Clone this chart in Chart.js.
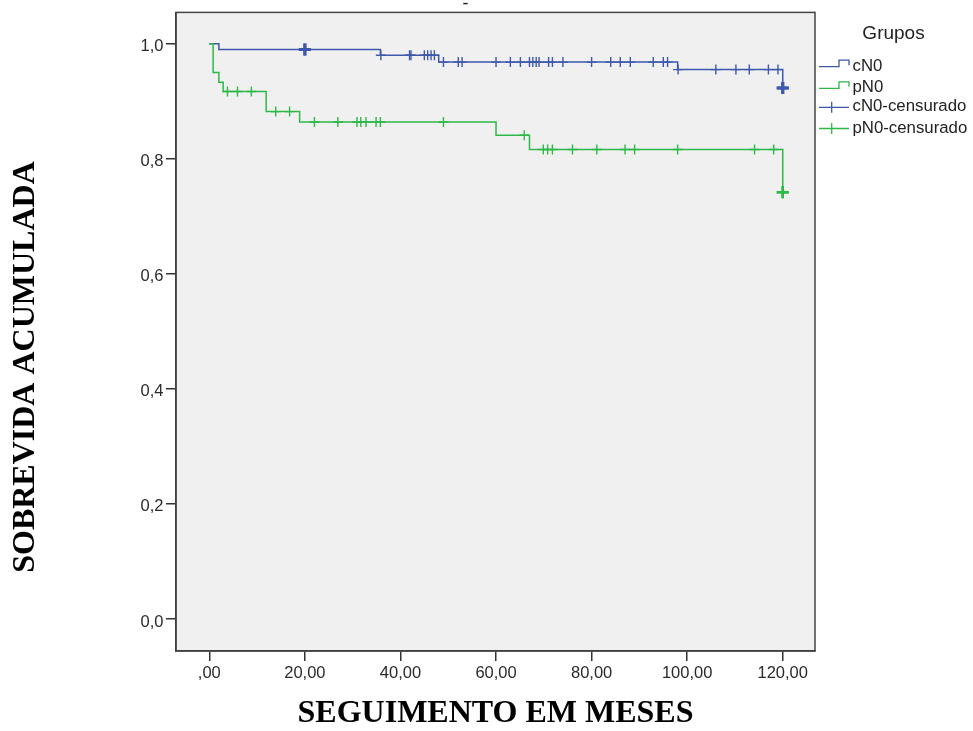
<!DOCTYPE html>
<html><head><meta charset="utf-8">
<script src="https://cdn.jsdelivr.net/npm/chart.js@4/dist/chart.umd.min.js"></script>
<style>html,body{margin:0;padding:0;background:#fff;}</style>
</head><body>
<canvas id="c" width="973" height="731"></canvas>
<script>
// ---- data ----
const xTicks = [0, 20, 40, 60, 80, 100, 120];
const yTicks = [0, 0.2, 0.4, 0.6, 0.8, 1.0];

const cN0Times = [0, 2, 35.8, 48, 98.0, 120];
const cN0Surv  = [1, 0.990, 0.980, 0.968, 0.955, 0.923];

const pN0Times = [0, 0.8, 2, 2.9, 11.9, 18.9, 60, 67, 120];
const pN0Surv  = [1, 0.950, 0.933, 0.917, 0.882, 0.864, 0.841, 0.816, 0.742];

const cN0CensorTimes = [20, 20, 35.9, 41.9, 42.2, 45.0, 45.7, 46.4, 47.1, 49.0, 52.1, 52.9,
  60.0, 63.0, 65.1, 67.0, 67.7, 68.4, 69.0, 71.0, 71.8, 74.0, 80.0, 84.0, 86.0, 88.1,
  92.9, 95.0, 95.9, 98.1, 106.0, 110.2, 113.0, 117.0, 119.0, 120, 120];
const pN0CensorTimes = [3.8, 5.9, 8.8, 13.9, 16.8, 22.0, 26.9, 30.9, 31.7, 32.8, 34.9, 35.8,
  49.0, 65.9, 69.9, 70.8, 71.8, 76.0, 81.1, 87.0, 89.0, 98.0, 114.1, 118.1, 120, 120];

const groupNames = ['cN0', 'pN0', 'cN0-censurado', 'pN0-censurado'];
const legendTitle = 'Grupos';
const xTitle = 'SEGUIMENTO EM MESES';
const yTitle = 'SOBREVIDA ACUMULADA';
const chartTitle = '-';

// ---- helpers ----
const BLUE = '#3e58ac', GREEN = '#2eb848';
function stepValue(times, surv, t) {
  let v = surv[0];
  for (let i = 0; i < times.length; i++) if (t >= times[i]) v = surv[i];
  return v;
}
const curve = (times, surv) => times.map((t, i) => ({x: t, y: surv[i]}));
const censors = (ct, times, surv) => ct.map(t => ({x: t, y: stepValue(times, surv, t)}));
const dupCount = (arr, t) => arr.filter(v => v === t).length;

const overlay = {
  id: 'overlay',
  beforeDraw(chart) {
    const {ctx, chartArea: a} = chart;
    ctx.save();
    ctx.fillStyle = '#f0f0f0';
    ctx.fillRect(a.left, a.top, a.right - a.left, a.bottom - a.top);
    ctx.restore();
  },
  afterDraw(chart) {
    const {ctx, chartArea: a} = chart;
    ctx.save();
    ctx.strokeStyle = '#444';
    ctx.lineWidth = 1.5;
    ctx.strokeRect(a.left, a.top, a.right - a.left, a.bottom - a.top);

    // small chart title mark
    ctx.fillStyle = '#222';
    ctx.font = '18px "Liberation Sans", Arial, sans-serif';
    ctx.textAlign = 'center'; ctx.textBaseline = 'middle';
    ctx.fillText(chartTitle, 465.5, 4);

    // y axis title
    ctx.save();
    ctx.translate(25.5, 367);
    ctx.rotate(-Math.PI / 2);
    ctx.font = 'bold 32px "Liberation Serif", "Times New Roman", serif';
    ctx.fillStyle = '#000';
    ctx.textAlign = 'center'; ctx.textBaseline = 'middle';
    ctx.fillText(yTitle, 0, 0);
    ctx.restore();

    // legend
    ctx.fillStyle = '#222';
    ctx.font = '19px "Liberation Sans", Arial, sans-serif';
    ctx.textAlign = 'center'; ctx.textBaseline = 'middle';
    ctx.fillText(legendTitle, 893.5, 33.5);

    ctx.font = '16.8px "Liberation Sans", Arial, sans-serif';
    ctx.textAlign = 'left';
    const rows = [66.7, 88.3, 107.3, 128.5];
    const cols = [BLUE, GREEN, BLUE, GREEN];
    rows.forEach((y, i) => {
      ctx.strokeStyle = cols[i];
      ctx.lineWidth = 1.3;
      ctx.beginPath();
      if (i < 2) {
        ctx.moveTo(819, y); ctx.lineTo(839, y); ctx.lineTo(839, y - 6.5);
        ctx.lineTo(849, y - 6.5); ctx.lineTo(849, y - 1.5);
      } else {
        ctx.moveTo(819, y); ctx.lineTo(849, y);
        ctx.moveTo(831.7, y - 5.5); ctx.lineTo(831.7, y + 5.5);
      }
      ctx.stroke();
      ctx.fillStyle = '#222';
      ctx.fillText(groupNames[i], 852.5, y - 0.5);
    });
    ctx.restore();
  }
};

Chart.defaults.font.family = '"Liberation Sans", Arial, sans-serif';

new Chart(document.getElementById('c'), {
  type: 'scatter',
  data: {
    datasets: [
      { label: groupNames[0], type: 'line', data: curve(cN0Times, cN0Surv), stepped: 'before',
        borderColor: BLUE, borderWidth: 1.5, pointRadius: 0, fill: false, order: 2 },
      { label: groupNames[1], type: 'line', data: curve(pN0Times, pN0Surv), stepped: 'before',
        borderColor: GREEN, borderWidth: 1.5, pointRadius: 0, fill: false, order: 1 },
      { label: groupNames[2], data: censors(cN0CensorTimes, cN0Times, cN0Surv), showLine: false,
        pointStyle: 'cross', borderColor: BLUE, backgroundColor: BLUE,
        pointRadius: c => dupCount(cN0CensorTimes, c.raw ? c.raw.x : -1) > 1 ? 6 : 5,
        pointBorderWidth: c => dupCount(cN0CensorTimes, c.raw ? c.raw.x : -1) > 1 ? 3 : 1.4,
        order: 0 },
      { label: groupNames[3], data: censors(pN0CensorTimes, pN0Times, pN0Surv), showLine: false,
        pointStyle: 'cross', borderColor: GREEN, backgroundColor: GREEN,
        pointRadius: c => dupCount(pN0CensorTimes, c.raw ? c.raw.x : -1) > 1 ? 6 : 5,
        pointBorderWidth: c => dupCount(pN0CensorTimes, c.raw ? c.raw.x : -1) > 1 ? 2.5 : 1.4,
        order: 0 }
    ]
  },
  options: {
    responsive: false,
    animation: false,
    devicePixelRatio: 1,
    layout: { padding: { top: 12, right: 158, bottom: 0, left: 0 } },
    plugins: { legend: { display: false }, tooltip: { enabled: false }, title: { display: false } },
    scales: {
      x: {
        type: 'linear', min: -6.97, max: 126.75,
        afterBuildTicks: s => { s.ticks = xTicks.map(v => ({value: v})); },
        afterFit: s => { s.height = 80; },
        ticks: {
          autoSkip: false, maxRotation: 0, padding: 3, color: '#2a2a2a',
          font: { size: 16.5 },
          callback: v => v === 0 ? ',00' : v.toFixed(2).replace('.', ',')
        },
        grid: { drawOnChartArea: false, drawTicks: true, tickLength: 10, color: '#333', lineWidth: 1.5 },
        border: { display: true, color: '#333', width: 1.5 },
        title: { display: true, text: xTitle, color: '#000', padding: { top: 0, bottom: 3 },
          font: { family: '"Liberation Serif", "Times New Roman", serif', size: 32, weight: 'bold', lineHeight: 0.9 } }
      },
      y: {
        type: 'linear', min: -0.0556, max: 1.0544,
        afterBuildTicks: s => { s.ticks = yTicks.map(v => ({value: v})); },
        afterFit: s => { s.width = 176; },
        ticks: {
          padding: 2.5, color: '#2a2a2a', labelOffset: 3,
          font: { size: 16.5 },
          callback: v => v.toFixed(1).replace('.', ',')
        },
        grid: { drawOnChartArea: false, drawTicks: true, tickLength: 10, color: '#333', lineWidth: 1.5 },
        border: { display: true, color: '#333', width: 1.5 }
      }
    }
  },
  plugins: [overlay]
});
</script>
</body></html>
